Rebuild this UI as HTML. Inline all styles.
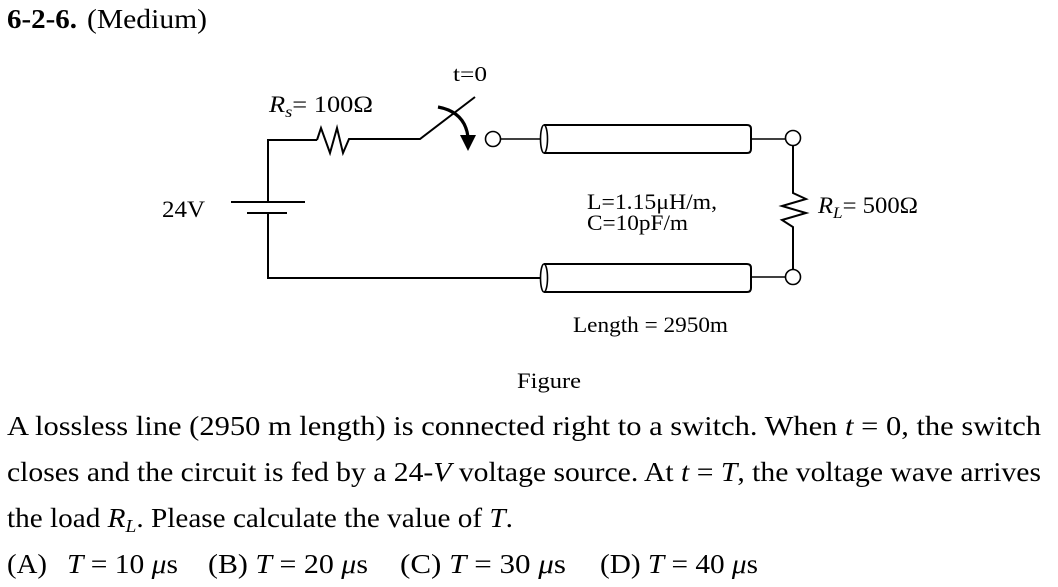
<!DOCTYPE html>
<html>
<head>
<meta charset="utf-8">
<style>
html,body{margin:0;padding:0;background:#fff;}
svg{display:block;}
text{font-family:"Liberation Serif",serif;fill:#000;}
</style>
</head>
<body>
<svg width="1058" height="587" viewBox="0 0 1058 587" xmlns="http://www.w3.org/2000/svg">
  <!-- Title -->
  <text x="7" y="28" font-size="27" font-weight="bold" textLength="70" lengthAdjust="spacingAndGlyphs">6-2-6.</text>
  <text x="87" y="28" font-size="27" textLength="120" lengthAdjust="spacingAndGlyphs">(Medium)</text>

  <!-- Circuit -->
  <g stroke="#000" stroke-width="2" fill="none" stroke-linejoin="miter">
    <polyline points="268,202 268,140 317,140"/>
    <polyline points="317,140 321,128 330,153 337,128 343,153 349,139 420,139 475,97"/>
    <line x1="231" y1="202" x2="305" y2="202"/>
    <line x1="247" y1="213" x2="287" y2="213"/>
    <polyline points="268,213 268,278 541,278"/>
    <circle cx="493" cy="139" r="7.5" stroke-width="1.6"/>
    <line x1="501" y1="139" x2="541" y2="139" stroke-width="1.6"/>
    <path d="M544,125 L747,125 Q751,125 751,129 L751,149 Q751,153 747,153 L544,153" stroke-width="2"/>
    <ellipse cx="544" cy="139" rx="3.5" ry="14" stroke-width="1.6"/>
    <path d="M544,264 L747,264 Q751,264 751,268 L751,288 Q751,292 747,292 L544,292" stroke-width="2"/>
    <ellipse cx="544" cy="278" rx="3.5" ry="14" stroke-width="1.6"/>
    <line x1="751" y1="139" x2="785" y2="139" stroke-width="1.6"/>
    <line x1="751" y1="277" x2="785" y2="277" stroke-width="1.6"/>
    <circle cx="793" cy="138" r="7.5" stroke-width="1.6"/>
    <circle cx="793" cy="277" r="7.5" stroke-width="1.6"/>
    <polyline points="793,146 793,193 806,199 782,206 806,213 782,220 793,227 793,269"/>
    <path d="M438,107 Q465,112 468,137" stroke-width="3.2"/>
  </g>
  <polygon points="460,135 476,135 468,151" fill="#000"/>

  <!-- Circuit labels -->
  <text x="453" y="81" font-size="21" textLength="34" lengthAdjust="spacingAndGlyphs">t=0</text>
  <text x="269" y="112" font-size="23" textLength="104" lengthAdjust="spacingAndGlyphs"><tspan font-style="italic">R</tspan><tspan font-style="italic" font-size="16" dy="5">s</tspan><tspan dy="-5">= 100Ω</tspan></text>
  <text x="162" y="217" font-size="23" textLength="43" lengthAdjust="spacingAndGlyphs">24V</text>
  <text x="587" y="209" font-size="22" textLength="130" lengthAdjust="spacingAndGlyphs">L=1.15μH/m,</text>
  <text x="587" y="230" font-size="22" textLength="101" lengthAdjust="spacingAndGlyphs">C=10pF/m</text>
  <text x="818" y="213" font-size="23" textLength="100" lengthAdjust="spacingAndGlyphs"><tspan font-style="italic">R</tspan><tspan font-style="italic" font-size="16" dy="5">L</tspan><tspan dy="-5">= 500Ω</tspan></text>
  <text x="573" y="332" font-size="22" textLength="155" lengthAdjust="spacingAndGlyphs">Length = 2950m</text>
  <text x="517" y="388" font-size="22" textLength="64" lengthAdjust="spacingAndGlyphs">Figure</text>

  <!-- Body text -->
  <text x="7" y="435" font-size="27" textLength="1034" lengthAdjust="spacingAndGlyphs">A lossless line (2950 m length) is connected right to a switch. When <tspan font-style="italic">t</tspan> = 0, the switch</text>
  <text x="7" y="481" font-size="27" textLength="1034" lengthAdjust="spacingAndGlyphs">closes and the circuit is fed by a 24-<tspan font-style="italic">V</tspan> voltage source. At <tspan font-style="italic">t</tspan> = <tspan font-style="italic">T</tspan>, the voltage wave arrives</text>
  <text x="7" y="527" font-size="27" textLength="506" lengthAdjust="spacingAndGlyphs">the load <tspan font-style="italic">R</tspan><tspan font-style="italic" font-size="18" dy="5">L</tspan><tspan dy="-5">. Please calculate the value of </tspan><tspan font-style="italic">T</tspan>.</text>

  <text x="7" y="573" font-size="27" textLength="40" lengthAdjust="spacingAndGlyphs">(A)</text>
  <text x="67" y="573" font-size="27" textLength="111" lengthAdjust="spacingAndGlyphs"><tspan font-style="italic">T</tspan> = 10 <tspan font-style="italic">μ</tspan>s</text>
  <text x="208" y="573" font-size="27" textLength="160" lengthAdjust="spacingAndGlyphs">(B) <tspan font-style="italic">T</tspan> = 20 <tspan font-style="italic">μ</tspan>s</text>
  <text x="400" y="573" font-size="27" textLength="166" lengthAdjust="spacingAndGlyphs">(C) <tspan font-style="italic">T</tspan> = 30 <tspan font-style="italic">μ</tspan>s</text>
  <text x="600" y="573" font-size="27" textLength="158" lengthAdjust="spacingAndGlyphs">(D) <tspan font-style="italic">T</tspan> = 40 <tspan font-style="italic">μ</tspan>s</text>
</svg>
</body>
</html>
